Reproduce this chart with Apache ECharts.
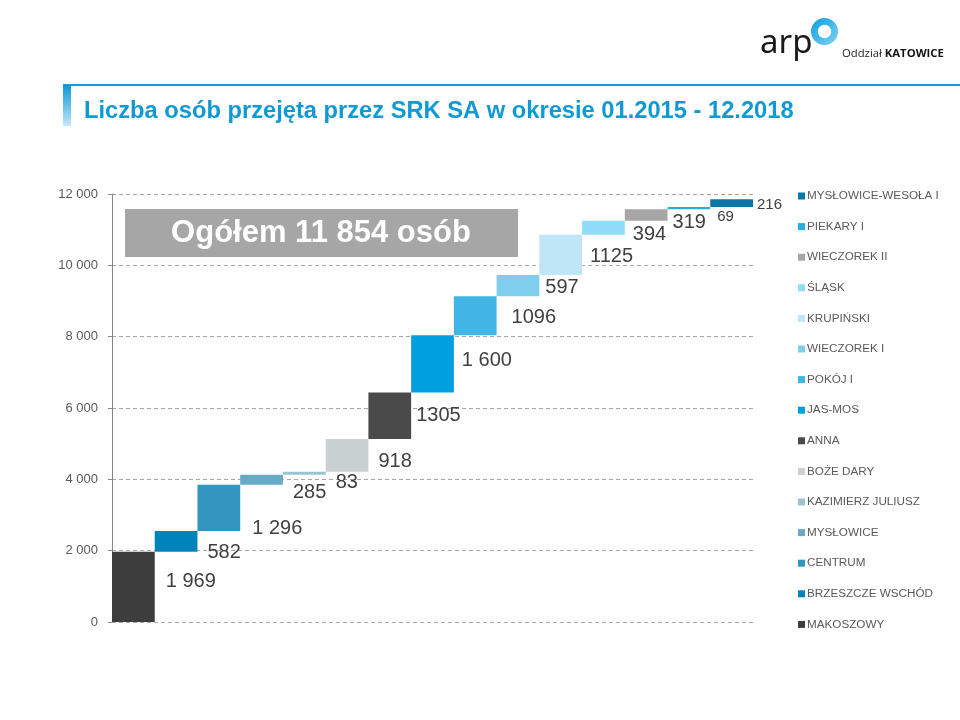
<!DOCTYPE html>
<html>
<head>
<meta charset="utf-8">
<script src="https://cdn.jsdelivr.net/npm/echarts@6/dist/echarts.min.js"></script>
<style>
  html, body { margin: 0; padding: 0; background: #fff; }
  #chart { width: 960px; height: 720px; }
</style>
</head>
<body>
<div id="chart"></div>
<script>
  // dane
  const categories = ['MAKOSZOWY', 'BRZESZCZE WSCHÓD', 'CENTRUM', 'MYSŁOWICE', 'KAZIMIERZ JULIUSZ', 'BOŻE DARY', 'ANNA',
    'JAS-MOS', 'POKÓJ I', 'WIECZOREK I', 'KRUPIŃSKI', 'ŚLĄSK', 'WIECZOREK II', 'PIEKARY I', 'MYSŁOWICE-WESOŁA I']
  const values = [1969, 582, 1296, 285, 83, 918, 1305, 1600, 1096, 597, 1125, 394, 319, 69, 216]
  const valueLabels = ['1 969', '582', '1 296', '285', '83', '918', '1305', '1 600', '1096', '597', '1125', '394', '319', '69', '216']
  const yMin = 0
  const yMax = 12000
  const yStep = 2000
  const titleText = 'Liczba osób przejęta przez SRK SA w okresie 01.2015 - 12.2018'
  const totalText = 'Ogółem 11 854 osób'

  // wygląd
  const colors = ['#3d3d3d', '#0082bb', '#3396c0', '#66aac8', '#9dc3d3', '#c8d0d2', '#4a4a4a',
    '#009fe0', '#40b5e6', '#80ceee', '#bee6f6', '#8edcf8', '#a6a6a6', '#2caae2', '#0b76a8']
  const labelGap = [11, 10, 12, 10, 10, 10, 5, 8, 15, 6, 8, 8, 5, 7, 4]
  const labelDy = [-5, 11, 21, 13, 9, 6, 0, -3, 2, 2, 2, 7, 7, 9, 2]
  const font = '"Liberation Sans", Arial, sans-serif'

  // podstawa kaskady
  const bases = []
  let acc = 0
  values.forEach(v => { bases.push(acc); acc += v })

  const series = [{
    name: 'base',
    type: 'bar',
    stack: 'w',
    silent: true,
    barCategoryGap: '0%',
    itemStyle: { color: 'transparent' },
    data: bases
  }]
  categories.forEach((name, i) => {
    series.push({
      name: name,
      type: 'bar',
      stack: 'w',
      barCategoryGap: '0%',
      itemStyle: { color: colors[i] },
      label: {
        show: true,
        position: 'right',
        distance: labelGap[i],
        offset: [0, labelDy[i]],
        formatter: valueLabels[i],
        fontFamily: font,
        fontSize: i >= 13 ? 15 : 20,
        color: '#404040'
      },
      data: values.map((v, j) => (j === i ? v : '-'))
    })
  })

  const chart = echarts.init(document.getElementById('chart'))
  chart.setOption({
    backgroundColor: '#ffffff',
    animation: false,
    title: {
      text: titleText,
      left: 79,
      top: 94,
      textStyle: { fontFamily: font, fontSize: 23.7, fontWeight: 'bold', color: '#0f9ad6' }
    },
    legend: {
      orient: 'vertical',
      left: 793,
      top: 184,
      icon: 'rect',
      itemWidth: 7,
      itemHeight: 7,
      itemGap: 16.6,
      data: categories.slice().reverse(),
      textStyle: { fontFamily: font, fontSize: 11.7, lineHeight: 14, color: '#595959', padding: [0, 0, 0, -3] }
    },
    grid: { left: 112, right: 207, top: 194, bottom: 98 },
    xAxis: {
      type: 'category',
      data: categories,
      axisLine: { show: false },
      axisTick: { show: false },
      axisLabel: { show: false }
    },
    yAxis: {
      type: 'value',
      min: yMin,
      max: yMax,
      interval: yStep,
      axisLine: { show: true, lineStyle: { color: '#868686' } },
      axisTick: { show: true, length: 4, lineStyle: { color: '#868686' } },
      axisLabel: {
        margin: 14,
        fontFamily: font,
        fontSize: 13,
        color: '#595959',
        formatter: v => String(v).replace(/\B(?=(\d{3})+(?!\d))/g, ' ')
      },
      splitLine: { lineStyle: { color: '#a6a6a6', type: [4, 3] } }
    },
    graphic: [
      // linia u góry
      { type: 'rect', shape: { x: 63, y: 84, width: 897, height: 2 }, style: { fill: '#0aa0e0' } },
      {
        type: 'rect', shape: { x: 63, y: 85, width: 8, height: 41 },
        style: { fill: new echarts.graphic.LinearGradient(0, 0, 0, 1, [
          { offset: 0, color: '#0a98d8' }, { offset: 1, color: '#c6e7f8' }]) }
      },
      // logo
      {
        type: 'ring', shape: { cx: 824.5, cy: 31.5, r: 13.5, r0: 6.8 },
        style: { fill: new echarts.graphic.LinearGradient(0, 0, 1, 1, [
          { offset: 0, color: '#0a9ee0' }, { offset: 1, color: '#7fd4f4' }]) }
      },
      {
        type: 'text', x: 760, y: 60,
        style: { text: 'arp', fontFamily: '"Noto Sans", sans-serif', fontSize: 33, fill: '#1a1a1a', textVerticalAlign: 'bottom' }
      },
      {
        type: 'text', x: 842, y: 54,
        style: {
          text: '{a|Oddział }{b|KATOWICE}',
          textVerticalAlign: 'middle',
          rich: {
            a: { fontFamily: '"Open Sans", sans-serif', fontSize: 11.3, fill: '#222' },
            b: { fontFamily: '"Open Sans", sans-serif', fontSize: 11.3, fontWeight: 'bold', fill: '#111' }
          }
        }
      },
      // ramka z sumą
      { type: 'rect', shape: { x: 125, y: 209, width: 393, height: 48 }, style: { fill: '#a6a6a6' }, z: 10 },
      {
        type: 'text', x: 321, y: 233, z: 11,
        style: { text: totalText, fontFamily: font, fontSize: 31, fontWeight: 'bold', fill: '#ffffff',
          textAlign: 'center', textVerticalAlign: 'middle' }
      }
    ],
    series: series
  })
</script>
</body>
</html>
